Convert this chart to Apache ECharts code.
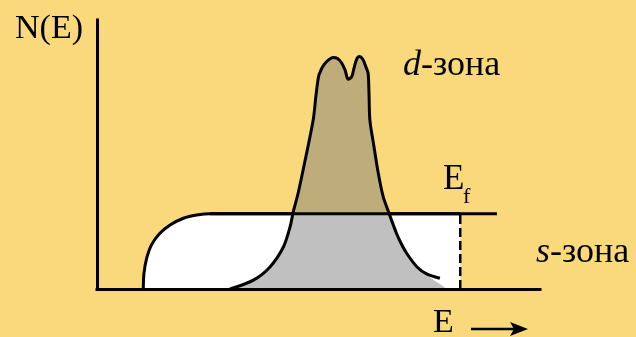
<!DOCTYPE html>
<html>
<head>
<meta charset="utf-8">
<script src="https://cdn.jsdelivr.net/npm/echarts@6/dist/echarts.min.js"></script>
<style>
  html, body { margin: 0; padding: 0; background: #F9D97B; }
  #chart { width: 636px; height: 337px; }
</style>
</head>
<body>
<div id="chart"></div>
<script>
// Density of states N(E) in arbitrary units, energy E in arbitrary units (0..100).
const fermiLevel = 28;          // height of the E_f line
const fermiLineStart = 25.5;    // E_f line runs from here ...
const fermiLineEnd = 90.3;      // ... to here
const sBandEdge = 82;           // filled part of the s-band ends at this energy

// s-band: steep rise, then a flat plateau up to E_f
const sBandDos = [
  [10.45, 0], [10.6, 5.8], [11.2, 11.4], [12.3, 16.4], [14.2, 20.7],
  [16.5, 23.8], [19.5, 26.3], [22.5, 27.5], [25.5, 28], [30, 28],
  [50, 28], [82, 28]
];

// d-band: narrow double-peaked band
const dBandDos = [
  [30.0, 0], [35.3, 3.3], [39.1, 8.3], [42.1, 15.7], [43.6, 23.2],
  [44.3, 28.7], [45.4, 35.6], [47.0, 48.0], [48.8, 62.8], [49.4, 71.5],
  [50.0, 78.9], [50.5, 81.2], [51.2, 83.3], [52.2, 85.1], [53.3, 86.1],
  [54.3, 85.7], [55.2, 84.1], [56.0, 81.4], [56.7, 78.0], [57.5, 78.9],
  [58.0, 82.0], [58.6, 85.4], [59.2, 86.4], [60.0, 85.4], [60.7, 82.6],
  [61.2, 80.2], [61.4, 72.7], [61.6, 62.8], [62.4, 54.2], [63.5, 43.0],
  [64.6, 34.3], [65.8, 28.7], [67.6, 20.7], [68.6, 17.1], [69.9, 13.3],
  [72.2, 8.3], [74.4, 5.6], [77.4, 4.0]
];
// the shaded d-band area reaches the baseline past the end of its outline
const dBandFillTail = [[75.2, 4.3], [77.8, 1.4], [78.9, 0]];

const colors = {
  background: '#F9D97B',
  sBand: '#FFFFFF',
  dOccupied: '#C0C0C0',
  dEmpty: '#BEAD7B',
  ink: '#000000'
};

const serifName = 'Liberation Serif';
const font = (size, style) => (style || 'normal') + ' normal ' + size + 'px "' + serifName + '", serif';

const chart = echarts.init(document.getElementById('chart'), null, { renderer: 'canvas' });

const hiddenAxis = {
  type: 'value',
  min: 0,
  max: 100,
  axisTick: { show: false },
  axisLabel: { show: false },
  splitLine: { show: false },
  z: 10
};

// band label "<italic letter>-зона"
const bandLabel = (letter, left, top) => ({
  type: 'text', left: left, top: top,
  style: {
    text: '{i|' + letter + '}{r|-зона}', fill: colors.ink,
    rich: {
      i: { fontFamily: serifName, fontSize: 36, fontStyle: 'italic', fill: colors.ink },
      r: { fontFamily: serifName, fontSize: 36, fill: colors.ink }
    }
  }
});

chart.setOption({
  animation: false,
  backgroundColor: colors.background,
  grid: { left: 97, right: 96, top: 20, bottom: 48 },
  xAxis: Object.assign({}, hiddenAxis, {
    axisLine: { show: true, onZero: false, lineStyle: { color: colors.ink, width: 3, cap: 'square' } }
  }),
  yAxis: Object.assign({}, hiddenAxis, {
    axisLine: { show: true, onZero: false, lineStyle: { color: colors.ink, width: 3, cap: 'square' } }
  }),
  visualMap: {
    type: 'piecewise',
    show: false,
    dimension: 1,
    seriesIndex: 1,
    pieces: [
      { gte: -10, lte: fermiLevel, color: colors.dOccupied },
      { gt: fermiLevel, lte: 110, color: colors.dEmpty }
    ]
  },
  series: [
    {
      name: 's-band',
      type: 'line',
      data: sBandDos,
      smooth: 0.3,
      symbol: 'none',
      lineStyle: { color: colors.ink, width: 3 },
      areaStyle: { color: colors.sBand, opacity: 1 },
      z: 2
    },
    {
      name: 'd-band fill',
      type: 'line',
      data: dBandDos.slice(0, -2).concat(dBandFillTail),
      smooth: 0.3,
      symbol: 'none',
      lineStyle: { width: 0, opacity: 0 },
      areaStyle: { opacity: 1 },
      z: 3
    },
    {
      name: 'd-band',
      type: 'line',
      data: dBandDos,
      smooth: 0.3,
      symbol: 'none',
      lineStyle: { color: colors.ink, width: 3, join: 'round' },
      z: 4
    },
    {
      name: 'E_f',
      type: 'line',
      data: [[fermiLineStart, fermiLevel], [fermiLineEnd, fermiLevel]],
      symbol: 'none',
      lineStyle: { color: colors.ink, width: 3 },
      z: 5
    },
    {
      name: 's-band edge',
      type: 'line',
      data: [[sBandEdge, 0], [sBandEdge, fermiLevel]],
      symbol: 'none',
      lineStyle: { color: colors.ink, width: 2.5, type: [9, 4] },
      z: 5
    }
  ],
  graphic: [
    {
      type: 'text', left: 15, top: 12,
      style: { text: 'N(E)', font: font(34), fill: colors.ink }
    },
    bandLabel('d', 403, 48),
    {
      type: 'text', left: 443, top: 162,
      style: { text: 'E', font: font(35), fill: colors.ink }
    },
    {
      type: 'text', left: 463, top: 186,
      style: { text: 'f', font: font(22), fill: colors.ink }
    },
    bandLabel('s', 536, 235),
    {
      type: 'text', left: 433, top: 306,
      style: { text: 'E', font: font(34), fill: colors.ink }
    },
    {
      type: 'line',
      shape: { x1: 471, y1: 329, x2: 520, y2: 329 },
      style: { stroke: colors.ink, lineWidth: 2.5 }
    },
    {
      type: 'polygon',
      shape: { points: [[528, 329], [510, 322], [514, 329], [510, 336]] },
      style: { fill: colors.ink }
    }
  ]
});
</script>
</body>
</html>
